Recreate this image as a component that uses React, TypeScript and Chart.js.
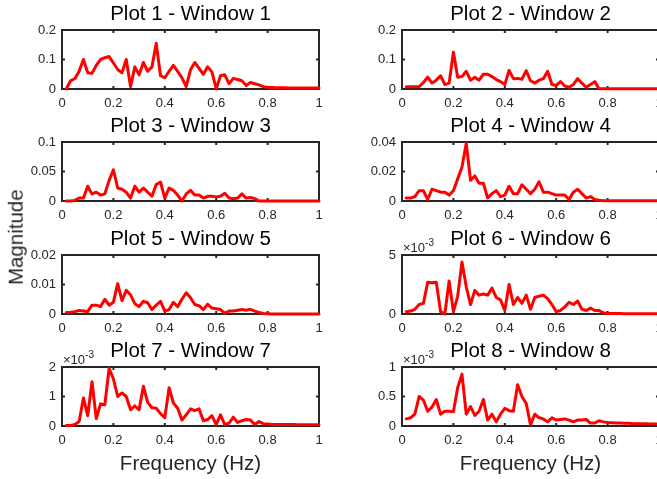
import { useEffect, useRef } from 'react';
import { Chart, registerables } from 'chart.js';

Chart.register(...registerables);

// Frequency bins (Hz), 60 evenly spaced bins up to 1 Hz
const freqHz: number[] = Array.from({ length: 60 }, (_, i) => (i + 1) / 60);

const xTicks = [0, 0.2, 0.4, 0.6, 0.8, 1];
const xTickLabels = ['0', '0.2', '0.4', '0.6', '0.8', '1'];

const titles = [
  'Plot 1 - Window 1', 'Plot 2 - Window 2', 'Plot 3 - Window 3', 'Plot 4 - Window 4',
  'Plot 5 - Window 5', 'Plot 6 - Window 6', 'Plot 7 - Window 7', 'Plot 8 - Window 8',
];

const mag1 = [
  0.000, 0.028, 0.035, 0.060, 0.100, 0.055, 0.053, 0.080, 0.100, 0.106,
  0.110, 0.088, 0.066, 0.055, 0.100, 0.008, 0.075, 0.048, 0.090, 0.060,
  0.075, 0.155, 0.045, 0.038, 0.060, 0.080, 0.060, 0.038, 0.008, 0.065,
  0.090, 0.070, 0.050, 0.075, 0.058, 0.000, 0.045, 0.048, 0.018, 0.036,
  0.032, 0.028, 0.012, 0.022, 0.018, 0.014, 0.008, 0.006, 0.005, 0.004,
  0.004, 0.004, 0.003, 0.003, 0.003, 0.003, 0.003, 0.003, 0.003, 0.003,
];
const mag2 = [
  0.008, 0.008, 0.008, 0.008, 0.022, 0.040, 0.020, 0.030, 0.045, 0.015,
  0.020, 0.125, 0.040, 0.042, 0.060, 0.030, 0.040, 0.030, 0.050, 0.050,
  0.042, 0.032, 0.025, 0.015, 0.063, 0.035, 0.036, 0.033, 0.062, 0.028,
  0.020, 0.030, 0.035, 0.060, 0.015, 0.012, 0.025, 0.010, 0.006, 0.015,
  0.035, 0.020, 0.006, 0.015, 0.025, 0.001, 0.001, 0.001, 0.001, 0.001,
  0.001, 0.001, 0.001, 0.001, 0.001, 0.001, 0.001, 0.001, 0.001, 0.001,
];
const mag3 = [
  0.000, 0.000, 0.001, 0.005, 0.005, 0.025, 0.012, 0.015, 0.010, 0.012,
  0.035, 0.053, 0.022, 0.020, 0.015, 0.005, 0.025, 0.015, 0.022, 0.015,
  0.008, 0.028, 0.032, 0.005, 0.022, 0.018, 0.010, 0.000, 0.012, 0.018,
  0.010, 0.010, 0.005, 0.008, 0.008, 0.007, 0.008, 0.013, 0.005, 0.004,
  0.005, 0.012, 0.005, 0.006, 0.004, 0.000, 0.000, 0.000, 0.000, 0.000,
  0.000, 0.000, 0.000, 0.000, 0.000, 0.000, 0.000, 0.000, 0.000, 0.000,
];
const mag4 = [
  0.0020, 0.0020, 0.0030, 0.0070, 0.0070, 0.0010, 0.0080, 0.0070, 0.0060, 0.0060,
  0.0040, 0.0070, 0.0150, 0.0230, 0.0390, 0.0140, 0.0170, 0.0120, 0.0120, 0.0020,
  0.0050, 0.0070, 0.0030, 0.0040, 0.0100, 0.0050, 0.0050, 0.0110, 0.0080, 0.0050,
  0.0080, 0.0130, 0.0060, 0.0060, 0.0050, 0.0040, 0.0040, 0.0040, 0.0010, 0.0060,
  0.0080, 0.0050, 0.0020, 0.0030, 0.0010, 0.0005, 0.0002, 0.0001, 0.0001, 0.0001,
  0.0001, 0.0001, 0.0001, 0.0001, 0.0001, 0.0001, 0.0001, 0.0001, 0.0001, 0.0001,
];
const mag5 = [
  0.0005, 0.0006, 0.0008, 0.0012, 0.0010, 0.0008, 0.0030, 0.0030, 0.0025, 0.0050,
  0.0030, 0.0040, 0.0103, 0.0045, 0.0080, 0.0065, 0.0035, 0.0025, 0.0043, 0.0038,
  0.0015, 0.0030, 0.0043, 0.0010, 0.0015, 0.0040, 0.0025, 0.0050, 0.0072, 0.0055,
  0.0032, 0.0028, 0.0015, 0.0033, 0.0020, 0.0018, 0.0015, 0.0003, 0.0010, 0.0010,
  0.0013, 0.0015, 0.0013, 0.0016, 0.0010, 0.0005, 0.0002, 0.0001, 0.0000, 0.0000,
  0.0000, 0.0000, 0.0000, 0.0000, 0.0000, 0.0000, 0.0000, 0.0000, 0.0000, 0.0000,
];
const mag6 = [
  0.00020, 0.00025, 0.00040, 0.00080, 0.00090, 0.00270, 0.00265, 0.00270, 0.00020, 0.00000,
  0.00280, 0.00020, 0.00150, 0.00440, 0.00230, 0.00080, 0.00200, 0.00160, 0.00170, 0.00160,
  0.00220, 0.00140, 0.00120, 0.00030, 0.00250, 0.00080, 0.00140, 0.00090, 0.00160, 0.00040,
  0.00140, 0.00150, 0.00160, 0.00130, 0.00080, 0.00020, 0.00030, 0.00060, 0.00100, 0.00080,
  0.00110, 0.00040, 0.00030, 0.00050, 0.00030, 0.00030, 0.00010, 0.00005, 0.00005, 0.00004,
  0.00004, 0.00003, 0.00003, 0.00003, 0.00003, 0.00002, 0.00002, 0.00002, 0.00002, 0.00002,
];
const mag7 = [
  0.00002, 0.00002, 0.00005, 0.00015, 0.00095, 0.00035, 0.00150, 0.00025, 0.00075, 0.00072,
  0.00195, 0.00160, 0.00100, 0.00112, 0.00100, 0.00055, 0.00068, 0.00055, 0.00135, 0.00080,
  0.00062, 0.00060, 0.00042, 0.00028, 0.00130, 0.00078, 0.00060, 0.00020, 0.00038, 0.00058,
  0.00052, 0.00058, 0.00018, 0.00022, 0.00035, 0.00005, 0.00038, 0.00005, 0.00010, 0.00030,
  0.00012, 0.00018, 0.00022, 0.00020, 0.00005, 0.00015, 0.00008, 0.00007, 0.00005, 0.00005,
  0.00005, 0.00005, 0.00005, 0.00005, 0.00004, 0.00004, 0.00004, 0.00004, 0.00004, 0.00004,
];
const mag8 = [
  0.000120, 0.000140, 0.000200, 0.000500, 0.000440, 0.000250, 0.000320, 0.000450, 0.000200, 0.000250,
  0.000250, 0.000240, 0.000650, 0.000880, 0.000200, 0.000330, 0.000180, 0.000250, 0.000450, 0.000100,
  0.000200, 0.000070, 0.000200, 0.000300, 0.000260, 0.000250, 0.000700, 0.000500, 0.000380, 0.000020,
  0.000200, 0.000140, 0.000120, 0.000070, 0.000140, 0.000100, 0.000110, 0.000120, 0.000100, 0.000070,
  0.000100, 0.000100, 0.000110, 0.000050, 0.000050, 0.000090, 0.000070, 0.000060, 0.000055, 0.000050,
  0.000050, 0.000045, 0.000045, 0.000040, 0.000040, 0.000040, 0.000040, 0.000035, 0.000035, 0.000035,
];

const yTicks1 = [0, 0.1, 0.2];
const yLabels1 = ['0', '0.1', '0.2'];
const yTicks3 = [0, 0.05, 0.1];
const yLabels3 = ['0', '0.05', '0.1'];
const yTicks4 = [0, 0.02, 0.04];
const yLabels4 = ['0', '0.02', '0.04'];
const yTicks5 = [0, 0.01, 0.02];
const yLabels5 = ['0', '0.01', '0.02'];
const yTicks6 = [0, 0.005];
const yLabels6 = ['0', '5'];
const yTicks7 = [0, 0.001, 0.002];
const yLabels7 = ['0', '1', '2'];
const yTicks8 = [0, 0.0005, 0.001];
const yLabels8 = ['0', '0.5', '1'];

const series = [mag1, mag2, mag3, mag4, mag5, mag6, mag7, mag8];
const yTickSets = [yTicks1, yTicks1, yTicks3, yTicks4, yTicks5, yTicks6, yTicks7, yTicks8];
const yLabelSets = [yLabels1, yLabels1, yLabels3, yLabels4, yLabels5, yLabels6, yLabels7, yLabels8];
const exponents = ['', '', '', '', '', '-3', '-3', '-3'];

// Layout of the 4 x 2 grid of axes (pixels)
const COL_LEFT = [62, 402];
const ROW_TOP = [30, 142, 255, 367];
const BOX_W = 257;
const BOX_H = 59;
const PAD_L = 62;
const PAD_T = 34;
const PAD_R = 20;
const PAD_B = 27;

const FONT = '"Liberation Sans", Arial, Helvetica, sans-serif';
const AXIS_COLOR = '#262626';
const TICK_LEN = 3;

const framePlugin = {
  id: 'frame',
  beforeDatasetsDraw(chart: any) {
    const { ctx, chartArea: a, scales } = chart;
    ctx.save();
    ctx.strokeStyle = AXIS_COLOR;
    ctx.lineWidth = 2;
    ctx.strokeRect(a.left, a.top, a.right - a.left, a.bottom - a.top);
    ctx.beginPath();
    for (const t of scales.x.ticks) {
      const px = scales.x.getPixelForValue(t.value);
      ctx.moveTo(px, a.bottom);
      ctx.lineTo(px, a.bottom - TICK_LEN);
      ctx.moveTo(px, a.top);
      ctx.lineTo(px, a.top + TICK_LEN);
    }
    for (const t of scales.y.ticks) {
      const py = scales.y.getPixelForValue(t.value);
      ctx.moveTo(a.left, py);
      ctx.lineTo(a.left + TICK_LEN, py);
      ctx.moveTo(a.right, py);
      ctx.lineTo(a.right - TICK_LEN, py);
    }
    ctx.stroke();
    ctx.restore();
  },
  afterDraw(chart: any, _args: any, opts: any) {
    const { ctx, chartArea: a } = chart;
    ctx.save();
    ctx.fillStyle = '#000';
    ctx.font = `20.5px ${FONT}`;
    ctx.textAlign = 'center';
    ctx.textBaseline = 'alphabetic';
    ctx.fillText(opts.title, (a.left + a.right) / 2, a.top - 10);
    if (opts.exponent) {
      ctx.fillStyle = AXIS_COLOR;
      ctx.textAlign = 'left';
      ctx.font = `13px ${FONT}`;
      const base = '\u00d710';
      ctx.fillText(base, a.left + 1, a.top - 3);
      const w = ctx.measureText(base).width;
      ctx.font = `10px ${FONT}`;
      ctx.fillText(opts.exponent, a.left + 1 + w, a.top - 9);
    }
    ctx.restore();
  },
};

function SubPlot({ idx }: { idx: number }) {
  const ref = useRef<HTMLCanvasElement>(null);
  const col = idx % 2;
  const row = Math.floor(idx / 2);

  useEffect(() => {
    const canvas = ref.current;
    if (!canvas) return;
    const values = series[idx];
    const yTicks = yTickSets[idx];
    const yLabels = yLabelSets[idx];
    const tickFont = { family: FONT, size: 13 };
    const chart = new Chart(canvas, {
      type: 'line',
      data: {
        datasets: [
          {
            data: freqHz.map((f, i) => ({ x: f, y: values[i] })),
            borderColor: '#ff0000',
            borderWidth: 3,
            pointRadius: 0,
            tension: 0,
            fill: false,
            clip: false,
            borderJoinStyle: 'round',
            borderCapStyle: 'round',
          } as any,
        ],
      },
      options: {
        animation: false,
        responsive: false,
        devicePixelRatio: 1,
        events: [],
        layout: { padding: { top: PAD_T, right: PAD_R, left: 0, bottom: 0 } },
        plugins: {
          legend: { display: false },
          tooltip: { enabled: false },
          title: { display: false },
          frame: { title: titles[idx], exponent: exponents[idx] },
        } as any,
        scales: {
          x: {
            type: 'linear',
            min: 0,
            max: 1,
            grid: { display: false, drawTicks: false },
            border: { display: false },
            afterBuildTicks: (s: any) => {
              s.ticks = xTicks.map((v) => ({ value: v }));
            },
            afterFit: (s: any) => {
              s.height = PAD_B;
            },
            ticks: {
              autoSkip: false,
              maxRotation: 0,
              padding: 7,
              color: AXIS_COLOR,
              font: tickFont,
              callback: (_v: any, i: number) => xTickLabels[i],
            },
          },
          y: {
            type: 'linear',
            min: yTicks[0],
            max: yTicks[yTicks.length - 1],
            grid: { display: false, drawTicks: false },
            border: { display: false },
            afterBuildTicks: (s: any) => {
              s.ticks = yTicks.map((v) => ({ value: v }));
            },
            afterFit: (s: any) => {
              s.width = PAD_L;
            },
            ticks: {
              autoSkip: false,
              padding: 6,
              color: AXIS_COLOR,
              font: tickFont,
              callback: (_v: any, i: number) => yLabels[i],
            },
          },
        },
      } as any,
      plugins: [framePlugin],
    });
    return () => chart.destroy();
  }, [idx]);

  return (
    <canvas
      ref={ref}
      width={PAD_L + BOX_W + PAD_R}
      height={PAD_T + BOX_H + PAD_B}
      style={{
        position: 'absolute',
        left: COL_LEFT[col] - PAD_L,
        top: ROW_TOP[row] - PAD_T,
      }}
    />
  );
}

const labelStyle: React.CSSProperties = {
  position: 'absolute',
  width: 240,
  textAlign: 'center',
  fontFamily: FONT,
  fontSize: 20.5,
  lineHeight: '20.5px',
  color: AXIS_COLOR,
  whiteSpace: 'nowrap',
};

export default function App() {
  return (
    <div
      style={{
        position: 'fixed',
        left: 0,
        top: 0,
        width: 657,
        height: 479,
        overflow: 'hidden',
        background: '#fff',
      }}
    >
      {titles.map((_, i) => (
        <SubPlot key={i} idx={i} />
      ))}
      <div
        style={{
          ...labelStyle,
          left: 16 - 120,
          top: 237 - 10.25,
          transform: 'rotate(-90deg)',
        }}
      >
        Magnitude
      </div>
      {COL_LEFT.map((l, i) => (
        <div key={i} style={{ ...labelStyle, left: l + BOX_W / 2 - 120, top: 453 }}>
          Frequency (Hz)
        </div>
      ))}
    </div>
  );
}
